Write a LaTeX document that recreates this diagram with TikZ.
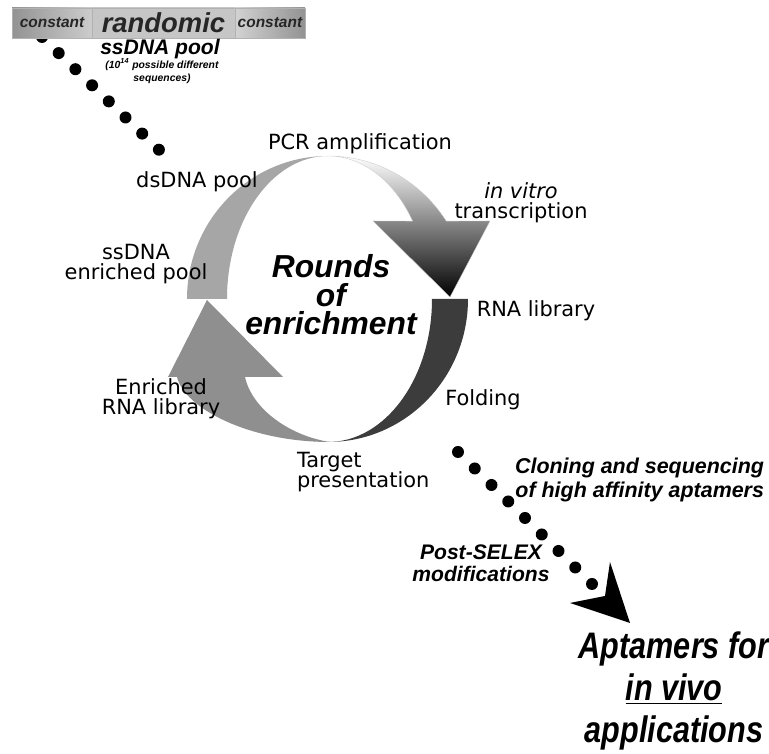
\documentclass[tikz,border=0pt]{standalone}
\usepackage{fontspec}
\newfontfamily\dejavu{DejaVu Sans}
\newfontfamily\arialbi{Liberation Sans}
\newfontfamily\narrowbi[FakeStretch=0.83]{Liberation Sans}
\usetikzlibrary{positioning}
\definecolor{bandgray}{HTML}{A6A6A6}
\definecolor{arrowgray}{HTML}{8F8F8F}
\definecolor{darkband}{HTML}{3C3C3C}

\begin{document}
\begin{tikzpicture}[
                x=0.02cm, y=0.02cm,
                every node/.style={inner sep=0, outer sep=0},
                lbl/.style={
                    font=\dejavu\fontsize{11.9}{11.8}\selectfont,
                    align=center
                },
                bi/.style={align=center},
                seg/.style={
                    draw=gray!60,
                    minimum height=0.6cm,
                    text=black!85,
                    font=\arialbi\bfseries\itshape\fontsize{8.8}{10}\selectfont
                },
                dot/.style={fill=black}
            ]
            \useasboundingbox (0,0) rectangle (769,754);

            % dots from the pool into the cycle
            \foreach \i in {0,...,7}
                \fill[dot] (42+16.7*\i, 717-16.1*\i) circle[radius=6];
            \foreach \i in {0,...,8}
                \fill[dot] (458+16.75*\i, 302-16.5*\i) circle[radius=6];
            \fill (610,192) -- (630,131) -- (570,151) -- (605,158) -- cycle;

            % library
            \node[seg, minimum width=1.6cm, left color=gray!85, right color=gray!40] (cstL) at (52,731) {constant};
            \node[seg, right=0pt of cstL, minimum width=2.86cm,
                  left color=gray!45, middle color=gray!10, right color=gray!45,
                  font=\arialbi\bfseries\itshape\fontsize{15.6}{17}\selectfont] (rnd) {randomic};
            \node[seg, right=0pt of rnd, minimum width=1.4cm, left color=gray!35, right color=gray!85] (cstR) {constant};
            \node[bi, anchor=base, font=\arialbi\bfseries\itshape\fontsize{12}{14}\selectfont] (pool) at (160,699) {ssDNA pool};
            \node[bi, anchor=base, font=\arialbi\bfseries\itshape\fontsize{5.9}{7.9}\selectfont] (seqs) at (162,672) {(10\textsuperscript{14} possible different\\sequences)};

            % cycle
            \fill[bandgray] (187,455) arc[start angle=180, end angle=90, x radius=141, y radius=143]
                arc[start angle=90, end angle=180, x radius=101, y radius=143] -- cycle;
            \shade[top color=white, bottom color=black, draw=gray!40, very thin]
                (328,598) arc[start angle=90, end angle=33, x radius=141, y radius=143]
                -- (490,533) -- (450,457) -- (373,533) -- (412.7,532.9)
                arc[start angle=33, end angle=90, x radius=101, y radius=143] -- cycle;
            \fill[arrowgray] (330,312) .. controls (250,312) and (185,345) .. (177,377)
                -- (168,377) -- (207,454) -- (283,377) -- (245,377)
                .. controls (252,345) and (290,318) .. (330,312) -- cycle;
            \fill[darkband] (468,455) arc[start angle=0, end angle=-90, x radius=140, y radius=143]
                arc[start angle=-90, end angle=0, x radius=104, y radius=143] -- cycle;

            \node[lbl, anchor=base] (pcr) at (360,604) {PCR amplification};
            \node[lbl, anchor=base] (ds) at (197,566) {dsDNA pool};
            \node[lbl, anchor=base] (ivt) at (521,535) {\textit{in vitro}\\transcription};
            \node[lbl, anchor=base] (ssenr) at (136,474) {ssDNA\\enriched pool};
            \node[lbl, anchor=base] (rnalib) at (536,437) {RNA library};
            \node[lbl, anchor=base] (fold) at (483,348) {Folding};
            \node[lbl, anchor=base] (enrlib) at (161,339) {Enriched\\RNA library};
            \node[lbl, align=left, anchor=base west] (target) at (297,266) {Target\\presentation};
            \node[bi, anchor=base, font=\arialbi\bfseries\itshape\fontsize{18.1}{16.4}\selectfont] (rounds) at (331,419) {Rounds\\of\\enrichment};

            % after selection
            \node[bi, align=right, anchor=base east, font=\arialbi\bfseries\itshape\fontsize{12.2}{14.2}\selectfont] (clone) at (764,256) {Cloning and sequencing\\of high affinity aptamers};
            \node[bi, anchor=base, font=\arialbi\bfseries\itshape\fontsize{12}{13}\selectfont] (post) at (481,172) {Post-SELEX\\modifications};
            \node[bi, anchor=base, font=\narrowbi\bfseries\itshape\fontsize{21}{24}\selectfont] (apt) at (674,11) {Aptamers for\\\underline{in vivo}\\applications};
            \end{tikzpicture}
\end{document}
